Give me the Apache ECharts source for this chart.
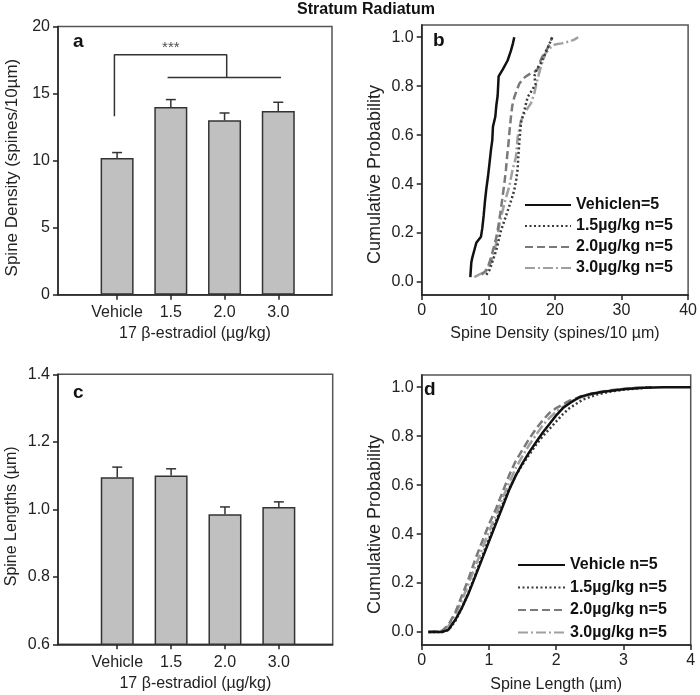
<!DOCTYPE html>
<html><head><meta charset="utf-8">
<script src="https://cdn.jsdelivr.net/npm/echarts@6/dist/echarts.min.js"></script>
<style>html,body{margin:0;padding:0;background:#fff}#c{width:700px;height:695px}</style>
</head><body><div id="c"></div>
<script>
// ---------- data ----------
const categories = ['Vehicle', '1.5', '2.0', '3.0'];
const catPos = [1, 2, 3, 4];
const densityMean = [10.2, 14.0, 13.0, 13.7];
const densityErr = [0.4, 0.55, 0.55, 0.65];
const lengthMean = [1.095, 1.1, 0.985, 1.007];
const lengthErr = [0.03, 0.02, 0.022, 0.015];
const bracketUpper = [[0.95, 13.3], [0.95, 17.9], [3.04, 17.9], [3.04, 16.2]];
const bracketLower = [[1.94, 16.2], [4.05, 16.2]];
const sigMark = [[2.0, 18.4, '***']];

const namesB = ['Vehiclen=5', '1.5µg/kg n=5', '2.0µg/kg n=5', '3.0µg/kg n=5'];
const namesD = ['Vehicle n=5', '1.5µg/kg n=5', '2.0µg/kg n=5', '3.0µg/kg n=5'];

const cdfDensVehicle = [[7.3,0.02],[7.45,0.08],[7.6,0.10],[8.0,0.14],[8.2,0.16],[8.9,0.185],[9.1,0.22],[9.3,0.27],[9.5,0.33],[9.7,0.38],[9.95,0.43],[10.2,0.49],[10.4,0.54],[10.6,0.58],[10.7,0.635],[11.05,0.675],[11.2,0.72],[11.4,0.76],[11.55,0.84],[12.2,0.87],[12.9,0.905],[13.4,0.945],[13.7,0.975],[13.9,1.0]];
const cdfDens15 = [[9.7,0.03],[10.2,0.05],[10.7,0.09],[11.2,0.13],[11.9,0.21],[12.4,0.25],[12.9,0.29],[13.4,0.33],[13.9,0.375],[14.2,0.42],[14.4,0.46],[14.5,0.51],[14.65,0.57],[14.9,0.65],[15.4,0.70],[15.9,0.755],[16.6,0.785],[17.1,0.81],[16.9,0.84],[17.3,0.87],[17.9,0.895],[18.9,0.955],[19.6,1.0]];
const cdfDens20 = [[9.0,0.03],[9.8,0.05],[10.3,0.09],[10.7,0.13],[11.1,0.17],[11.4,0.21],[11.8,0.28],[12.15,0.35],[12.4,0.40],[12.65,0.46],[12.85,0.52],[13.05,0.57],[13.2,0.62],[13.4,0.675],[13.6,0.72],[13.9,0.755],[14.3,0.785],[14.65,0.81],[15.2,0.83],[15.65,0.84],[16.4,0.853],[17.0,0.86],[17.4,0.87],[17.7,0.895],[18.1,0.92],[18.9,0.955],[19.6,1.0]];
const cdfDens30 = [[7.9,0.02],[8.6,0.03],[9.4,0.04],[9.9,0.06],[10.4,0.08],[10.8,0.12],[11.2,0.16],[11.7,0.24],[12.4,0.32],[13.15,0.39],[13.65,0.46],[14.15,0.51],[14.4,0.59],[14.9,0.66],[15.65,0.70],[16.4,0.73],[16.9,0.77],[17.4,0.83],[17.9,0.88],[18.6,0.935],[19.6,0.965],[20.0,0.97],[21.0,0.975],[22.1,0.982],[22.9,0.99],[23.5,1.0]];

const cdfLenVehicle = [[0.1,0],[0.3,0],[0.4,0.01],[0.5,0.05],[0.6,0.1],[0.7,0.16],[0.8,0.23],[0.9,0.3],[1.0,0.37],[1.1,0.44],[1.2,0.51],[1.3,0.58],[1.4,0.64],[1.5,0.69],[1.6,0.735],[1.7,0.775],[1.8,0.815],[1.9,0.85],[2.0,0.885],[2.1,0.915],[2.2,0.935],[2.35,0.96],[2.5,0.972],[2.7,0.982],[3.0,0.992],[3.3,0.998],[3.6,1.0],[4.0,1.0]];
const cdfLen15 = [[0.1,0],[0.3,0],[0.4,0.008],[0.5,0.045],[0.6,0.1],[0.7,0.165],[0.8,0.235],[0.9,0.31],[1.0,0.38],[1.1,0.45],[1.2,0.52],[1.3,0.585],[1.4,0.64],[1.5,0.685],[1.6,0.725],[1.7,0.765],[1.8,0.8],[1.9,0.83],[2.0,0.86],[2.1,0.89],[2.2,0.915],[2.4,0.95],[2.6,0.97],[2.8,0.982],[3.0,0.99],[3.2,0.995],[3.45,1.0]];
const cdfLen20 = [[0.1,0],[0.3,0.005],[0.4,0.03],[0.5,0.08],[0.6,0.15],[0.7,0.22],[0.8,0.3],[0.9,0.37],[1.0,0.44],[1.1,0.5],[1.2,0.57],[1.3,0.64],[1.4,0.7],[1.5,0.745],[1.6,0.79],[1.7,0.83],[1.8,0.865],[1.9,0.895],[2.0,0.915],[2.2,0.945],[2.4,0.965],[2.6,0.978],[2.8,0.988],[3.1,0.996],[3.4,1.0]];
const cdfLen30 = [[0.1,0],[0.3,0.003],[0.4,0.025],[0.5,0.07],[0.6,0.13],[0.7,0.2],[0.8,0.27],[0.9,0.34],[1.0,0.41],[1.1,0.475],[1.2,0.545],[1.3,0.61],[1.4,0.67],[1.5,0.72],[1.6,0.765],[1.7,0.805],[1.8,0.845],[1.9,0.875],[2.0,0.9],[2.2,0.94],[2.4,0.962],[2.6,0.976],[2.8,0.986],[3.0,0.993],[3.3,1.0]];

const probTicks = [0, 0.2, 0.4, 0.6, 0.8, 1.0];

// ---------- styles ----------
const FONT = 'Liberation Sans, Arial, sans-serif';
const AX = '#222';
const lineStyles = [
  { color: '#111', width: 2.5, type: 'solid' },
  { color: '#3a3a3a', width: 2.5, type: [2, 2.5] },
  { color: '#7a7a7a', width: 2.5, type: [8, 4] },
  { color: '#a0a0a0', width: 2.5, type: [10, 3, 2, 3] }
];

function axisCommon() {
  return {
    axisLine: { show: true, onZero: false, lineStyle: { color: AX, width: 1.5 } },
    axisTick: { show: true, inside: false, length: 5, lineStyle: { color: AX, width: 1.5 } },
    axisLabel: { color: '#222', fontSize: 16, fontFamily: FONT, margin: 8 },
    splitLine: { show: false },
    nameLocation: 'middle',
    nameTextStyle: { color: '#222', fontSize: 16, fontFamily: FONT }
  };
}
function catX(gridIndex, name) {
  const a = axisCommon();
  return Object.assign(a, {
    type: 'value', gridIndex, min: -0.1, max: 5, name, nameGap: 31,
    axisTick: Object.assign(a.axisTick, { customValues: catPos }),
    axisLabel: Object.assign(a.axisLabel, { margin: 10, customValues: catPos, formatter: v => categories[Math.round(v) - 1] || '' })
  });
}
function probY(gridIndex) {
  const a = axisCommon();
  return Object.assign(a, {
    type: 'value', gridIndex, min: -0.053, max: 1.05, name: 'Cumulative Probability', nameGap: 38,
    nameTextStyle: { color: '#222', fontSize: 18, fontFamily: FONT, padding: [0, 29, 0, 0] },
    axisTick: Object.assign(a.axisTick, { customValues: probTicks }),
    axisLabel: Object.assign(a.axisLabel, { customValues: probTicks, formatter: v => v.toFixed(1) })
  });
}

const gridBase = { show: true, borderColor: '#555', borderWidth: 1.5, backgroundColor: 'transparent' };

function errSeries(xi, yi, means, errs) {
  return {
    type: 'custom', xAxisIndex: xi, yAxisIndex: yi, z: 5,
    data: catPos.map((p, i) => [p, means[i], errs[i]]),
    renderItem: (params, api) => {
      const x = api.value(0), y = api.value(1), e = api.value(2);
      const b = api.coord([x, y]), t = api.coord([x, y + e]);
      const st = { stroke: '#333', lineWidth: 1.5 };
      return { type: 'group', children: [
        { type: 'line', shape: { x1: b[0], y1: b[1], x2: t[0], y2: t[1] }, style: st },
        { type: 'line', shape: { x1: t[0] - 5, y1: t[1], x2: t[0] + 5, y2: t[1] }, style: st }
      ] };
    }
  };
}
function barSeries(xi, yi, means) {
  return {
    type: 'bar', xAxisIndex: xi, yAxisIndex: yi, barWidth: 33,
    data: catPos.map((p, i) => [p, means[i]]),
    itemStyle: { color: '#c0c0c0', borderColor: '#333', borderWidth: 1.5 },
    silent: true
  };
}
function cdfSeries(xi, yi, name, data, k, w) {
  const ls = Object.assign({}, lineStyles[k], { width: w });
  return { type: 'line', xAxisIndex: xi, yAxisIndex: yi, name, data, symbol: 'none', showSymbol: false,
    lineStyle: ls, itemStyle: { color: ls.color }, z: 3 + (3 - k) };
}

const legendCommon = {
  orient: 'vertical', itemWidth: 46, itemHeight: 14, selectedMode: false, padding: 0,
  itemStyle: { opacity: 0 },
  textStyle: { fontWeight: 'bold', fontSize: 16, color: '#111', fontFamily: FONT }
};

const option = {
  animation: false,
  backgroundColor: '#fff',
  title: [
    { text: 'Stratum Radiatum', left: 366, top: 2, textAlign: 'center', padding: 0,
      textStyle: { fontSize: 16, fontWeight: 'bold', color: '#111', fontFamily: FONT } },
    { text: 'a', left: 73, top: 32, padding: 0, textStyle: { fontSize: 19, fontWeight: 'bold', color: '#111', fontFamily: FONT } },
    { text: 'b', left: 433, top: 31, padding: 0, textStyle: { fontSize: 19, fontWeight: 'bold', color: '#111', fontFamily: FONT } },
    { text: 'c', left: 73, top: 383, padding: 0, textStyle: { fontSize: 19, fontWeight: 'bold', color: '#111', fontFamily: FONT } },
    { text: 'd', left: 424, top: 380, padding: 0, textStyle: { fontSize: 19, fontWeight: 'bold', color: '#111', fontFamily: FONT } }
  ],
  legend: [
    Object.assign({}, legendCommon, { data: namesB, left: 524, top: 197, itemGap: 5 }),
    Object.assign({}, legendCommon, { data: namesD, left: 517, top: 557, itemWidth: 47, itemGap: 6.5 })
  ],
  grid: [
    Object.assign({ left: 58, top: 26.5, width: 274, height: 268.2 }, gridBase),
    Object.assign({ left: 421.7, top: 25, width: 268.6, height: 270 }, gridBase),
    Object.assign({ left: 58, top: 374.3, width: 274.7, height: 270 }, gridBase),
    Object.assign({ left: 421.7, top: 375, width: 269, height: 270 }, gridBase)
  ],
  xAxis: [
    catX(0, '17 β-estradiol (µg/kg)'),
    Object.assign(axisCommon(), { type: 'value', gridIndex: 1, min: 0, max: 40, interval: 10, name: 'Spine Density (spines/10 µm)', nameGap: 31 }),
    catX(2, '17 β-estradiol (µg/kg)'),
    Object.assign(axisCommon(), { type: 'value', gridIndex: 3, min: 0, max: 4, interval: 1, name: 'Spine Length (µm)', nameGap: 32 })
  ],
  yAxis: [
    Object.assign(axisCommon(), { type: 'value', gridIndex: 0, min: 0, max: 20, interval: 5, name: 'Spine Density (spines/10µm)', nameGap: 37,
      nameTextStyle: { color: '#222', fontSize: 17, fontFamily: FONT, padding: [0, 14, 0, 0] } }),
    probY(1),
    Object.assign(axisCommon(), { type: 'value', gridIndex: 2, min: 0.6, max: 1.4, interval: 0.2, name: 'Spine Lengths (µm)', nameGap: 38,
      nameTextStyle: { color: '#222', fontSize: 16, fontFamily: FONT, padding: [0, 14, 0, 0] } }),
    probY(3)
  ],
  series: [
    barSeries(0, 0, densityMean),
    errSeries(0, 0, densityMean, densityErr),
    { type: 'line', xAxisIndex: 0, yAxisIndex: 0, data: bracketUpper, symbol: 'none', lineStyle: { color: '#333', width: 1.5 }, silent: true },
    { type: 'line', xAxisIndex: 0, yAxisIndex: 0, data: bracketLower, symbol: 'none', lineStyle: { color: '#333', width: 1.5 }, silent: true },
    { type: 'scatter', xAxisIndex: 0, yAxisIndex: 0, data: sigMark, symbolSize: 1, itemStyle: { color: 'rgba(0,0,0,0)' }, silent: true,
      label: { show: true, position: 'inside', formatter: p => p.data[2], fontSize: 15, color: '#222', fontFamily: FONT } },
    barSeries(2, 2, lengthMean),
    errSeries(2, 2, lengthMean, lengthErr),
    cdfSeries(1, 1, namesB[0], cdfDensVehicle, 0, 2.5),
    cdfSeries(1, 1, namesB[1], cdfDens15, 1, 2.5),
    cdfSeries(1, 1, namesB[2], cdfDens20, 2, 2.5),
    cdfSeries(1, 1, namesB[3], cdfDens30, 3, 2.5),
    cdfSeries(3, 3, namesD[0], cdfLenVehicle, 0, 2.5),
    cdfSeries(3, 3, namesD[1], cdfLen15, 1, 2.5),
    cdfSeries(3, 3, namesD[2], cdfLen20, 2, 2.5),
    cdfSeries(3, 3, namesD[3], cdfLen30, 3, 2.5)
  ]
};
option.yAxis[2].axisLabel.formatter = v => v.toFixed(1);

const chart = echarts.init(document.getElementById('c'), null, { renderer: 'canvas' });
chart.setOption(option);
</script>
</body></html>
